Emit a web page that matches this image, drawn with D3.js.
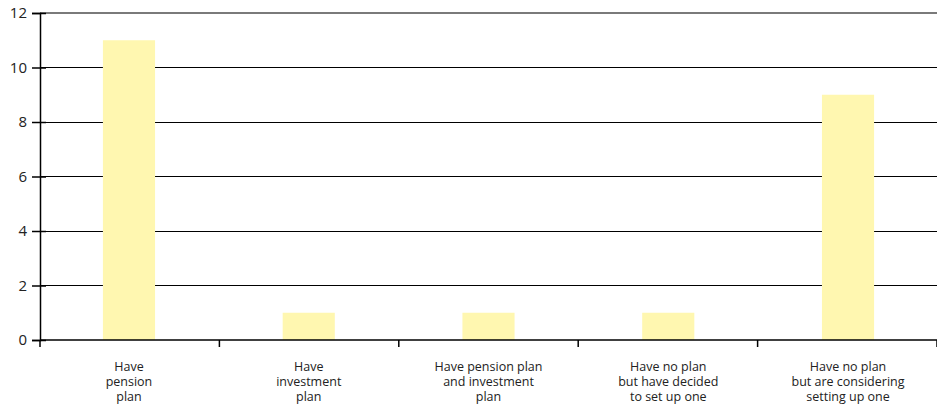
<!DOCTYPE html>
<html>
<head>
<meta charset="utf-8">
<script src="https://cdn.jsdelivr.net/npm/d3@7"></script>
<style>
  html, body { margin: 0; padding: 0; background: #fff; }
  svg { display: block; }
  text { font-family: "Open Sans", "DejaVu Sans", sans-serif; fill: #222; }
</style>
</head>
<body>
<svg id="chart" width="937" height="404"></svg>
<script>
// Plan status categories (multi-line labels) and respondent counts
const categories = [
  ["Have", "pension", "plan"],
  ["Have", "investment", "plan"],
  ["Have pension plan", "and investment", "plan"],
  ["Have no plan", "but have decided", "to set up one"],
  ["Have no plan", "but are considering", "setting up one"]
];
const values = [11, 1, 1, 1, 9];
const yTicks = [0, 2, 4, 6, 8, 10, 12];

(function draw() {
  const svg = d3.select("#chart");
  const plotLeft = 40, plotRight = 937, plotTop = 13, plotBottom = 340;

  const x = d3.scaleBand()
    .domain(d3.range(categories.length))
    .range([plotLeft, plotRight])
    .paddingInner(0.71)
    .paddingOuter(0.35);

  const xOuter = d3.scaleBand()
    .domain(d3.range(categories.length))
    .range([plotLeft, plotRight]);

  const y = d3.scaleLinear().domain([0, 12]).range([plotBottom, plotTop]);

  // horizontal gridlines
  svg.append("g")
    .selectAll("line")
    .data(yTicks.filter(d => d > 0))
    .join("line")
    .attr("x1", plotLeft).attr("x2", plotRight)
    .attr("y1", d => y(d)).attr("y2", d => y(d))
    .attr("stroke", d => d === 12 ? "#7a7a7a" : "#000")
    .attr("stroke-width", d => d === 12 ? 2 : 1)
    .attr("shape-rendering", "crispEdges");

  // bars
  svg.append("g")
    .selectAll("rect")
    .data(values)
    .join("rect")
    .attr("x", (d, i) => x(i))
    .attr("width", x.bandwidth())
    .attr("y", d => y(d))
    .attr("height", d => y(0) - y(d))
    .attr("fill", "#fff7b0");

  // y axis
  const yAxis = d3.axisLeft(y).tickValues(yTicks).tickSize(8).tickPadding(5);
  const gy = svg.append("g").attr("transform", `translate(${plotLeft},0)`).call(yAxis);
  gy.select(".domain").attr("stroke", "#000").attr("stroke-width", 1.5);
  gy.selectAll(".tick line").attr("stroke", "#000").attr("stroke-width", 1.5)
    .attr("x1", 6).attr("x2", -8);
  gy.selectAll(".tick text").attr("font-size", 15).attr("fill", "#222")
    .attr("font-family", "'Open Sans', sans-serif").attr("x", -13);

  // x axis baseline with category boundary ticks
  svg.append("line")
    .attr("x1", plotLeft).attr("x2", plotRight)
    .attr("y1", plotBottom).attr("y2", plotBottom)
    .attr("stroke", "#000").attr("stroke-width", 1.5);

  const boundaries = d3.range(categories.length + 1).map(i =>
    i < categories.length ? xOuter(i) : plotRight);
  svg.append("g")
    .selectAll("line")
    .data(boundaries)
    .join("line")
    .attr("x1", d => d).attr("x2", d => d)
    .attr("y1", plotBottom).attr("y2", plotBottom + 7)
    .attr("stroke", "#000").attr("stroke-width", 1.5);

  // category labels
  const labels = svg.append("g")
    .selectAll("text")
    .data(categories)
    .join("text")
    .attr("text-anchor", "middle")
    .attr("font-family", "'Liberation Sans', Arial, sans-serif")
    .attr("font-size", 12.5)
    .attr("x", (d, i) => x(i) + x.bandwidth() / 2);

  labels.selectAll("tspan")
    .data(d => d)
    .join("tspan")
    .attr("x", function() { return this.parentNode.getAttribute("x"); })
    .attr("y", (d, j) => 371 + j * 15)
    .text(d => d);
})();
</script>
</body>
</html>
